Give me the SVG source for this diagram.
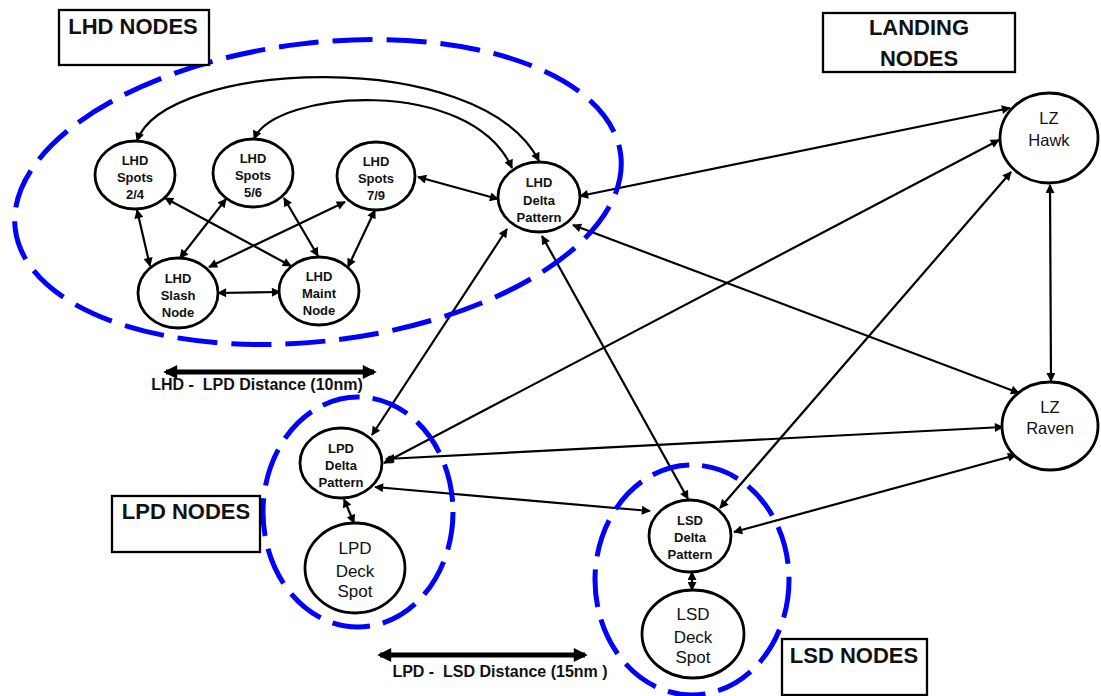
<svg xmlns="http://www.w3.org/2000/svg" width="1101" height="696" viewBox="0 0 1101 696">
<style>
.bg{fill:#fff}
.node ellipse{fill:#fff;stroke:#000;stroke-width:2.8}
.node text{font-family:"Liberation Sans",Arial,sans-serif;font-weight:bold;font-size:13px;text-anchor:middle;fill:#111}
.node text.big{font-weight:normal;font-size:17px}
.node text.lz{font-weight:normal;font-size:16.5px}
.conn line,.conn path{stroke:#000;stroke-width:2.2;fill:none;marker-start:url(#ah);marker-end:url(#ah)}
.dist line{stroke:#000;stroke-width:5;marker-start:url(#bh);marker-end:url(#bh)}
.grp{fill:none;stroke:#0000ff;stroke-width:5}
.box rect{fill:#fff;stroke:#000;stroke-width:2.3}
.box text{font-family:"Liberation Sans",Arial,sans-serif;font-weight:bold;font-size:22px;text-anchor:middle;fill:#111}
.lbl{font-family:"Liberation Sans",Arial,sans-serif;font-weight:bold;font-size:16px;text-anchor:middle;white-space:pre;fill:#111}
</style>
<defs>
<marker id="ah" viewBox="0 0 10 10" refX="9" refY="5" markerWidth="10" markerHeight="9" markerUnits="userSpaceOnUse" orient="auto-start-reverse"><path d="M0,0L10,5L0,10z" fill="#000"/></marker>
<marker id="bh" viewBox="0 0 10 10" refX="8" refY="5" markerWidth="17" markerHeight="14" markerUnits="userSpaceOnUse" orient="auto-start-reverse"><path d="M0,0L10,5L0,10z" fill="#000"/></marker>
</defs>
<rect class="bg" x="0" y="0" width="1101" height="696"/>

<g id="connectors" class="conn">
<path d="M137,141 C165,60 480,45 539,161"/>
<path d="M254,139 C275,90 470,75 512,168"/>
<line x1="418" y1="177" x2="498" y2="199"/>
<line x1="137" y1="210" x2="150" y2="266"/>
<line x1="165" y1="198" x2="291" y2="266"/>
<line x1="226" y1="199" x2="180" y2="258"/>
<line x1="284" y1="198" x2="318" y2="256"/>
<line x1="345" y1="202" x2="209" y2="267"/>
<line x1="375" y1="210" x2="348" y2="267"/>
<line x1="218" y1="293" x2="280" y2="292"/>
<line x1="580" y1="196" x2="1010" y2="108"/>
<line x1="573" y1="225" x2="1019" y2="393"/>
<line x1="507" y1="229" x2="372" y2="435"/>
<line x1="542" y1="236" x2="688" y2="499"/>
<line x1="999" y1="140" x2="384" y2="463"/>
<line x1="1011" y1="172" x2="720" y2="508"/>
<line x1="1050" y1="185" x2="1051" y2="381"/>
<line x1="1003" y1="427" x2="386" y2="459"/>
<line x1="1016" y1="455" x2="734" y2="532"/>
<line x1="375" y1="487" x2="650" y2="511"/>
<line x1="344" y1="499" x2="354" y2="523"/>
<line x1="692" y1="572" x2="692" y2="590"/>
</g>

<g id="groups">
<ellipse id="lhd-group" class="grp" cx="318" cy="192" rx="305" ry="149" transform="rotate(-7 318 192)" stroke-dasharray="40 14"/>
<ellipse id="lpd-group" class="grp" cx="358" cy="512" rx="95" ry="115" stroke-dasharray="38 13"/>
<ellipse id="lsd-group" class="grp" cx="692" cy="580" rx="97" ry="115" stroke-dasharray="38 13"/>
</g>

<g id="lhd-spots-24" class="node"><ellipse cx="135" cy="175" rx="40" ry="34"/><text x="135" y="165">LHD</text><text x="135" y="182">Spots</text><text x="135" y="199">2/4</text></g>
<g id="lhd-spots-56" class="node"><ellipse cx="253" cy="173" rx="40" ry="34"/><text x="253" y="163">LHD</text><text x="253" y="180">Spots</text><text x="253" y="197">5/6</text></g>
<g id="lhd-spots-79" class="node"><ellipse cx="376" cy="176" rx="39" ry="34"/><text x="376" y="166">LHD</text><text x="376" y="183">Spots</text><text x="376" y="200">7/9</text></g>
<g id="lhd-delta" class="node"><ellipse cx="539" cy="197" rx="41" ry="35"/><text x="539" y="187">LHD</text><text x="539" y="205">Delta</text><text x="539" y="222">Pattern</text></g>
<g id="lhd-slash" class="node"><ellipse cx="178" cy="293" rx="40" ry="35"/><text x="178" y="283">LHD</text><text x="178" y="300">Slash</text><text x="178" y="317">Node</text></g>
<g id="lhd-maint" class="node"><ellipse cx="319" cy="291" rx="40" ry="34"/><text x="319" y="281">LHD</text><text x="319" y="298">Maint</text><text x="319" y="315">Node</text></g>
<g id="lz-hawk" class="node"><ellipse cx="1049" cy="138" rx="49" ry="45"/><text class="lz" x="1049" y="124">LZ</text><text class="lz" x="1049" y="146">Hawk</text></g>
<g id="lz-raven" class="node"><ellipse cx="1050" cy="426" rx="48" ry="44"/><text class="lz" x="1050" y="413">LZ</text><text class="lz" x="1050" y="434">Raven</text></g>
<g id="lpd-delta" class="node"><ellipse cx="341" cy="463" rx="41" ry="35"/><text x="341" y="453">LPD</text><text x="341" y="470">Delta</text><text x="341" y="487">Pattern</text></g>
<g id="lpd-deck" class="node"><ellipse cx="355" cy="568" rx="50" ry="45"/><text class="big" x="355" y="554">LPD</text><text class="big" x="355" y="577">Deck</text><text class="big" x="355" y="597">Spot</text></g>
<g id="lsd-delta" class="node"><ellipse cx="690" cy="536" rx="41" ry="36"/><text x="690" y="525">LSD</text><text x="690" y="542">Delta</text><text x="690" y="559">Pattern</text></g>
<g id="lsd-deck" class="node"><ellipse cx="693" cy="634" rx="51" ry="44"/><text class="big" x="693" y="620">LSD</text><text class="big" x="693" y="643">Deck</text><text class="big" x="693" y="663">Spot</text></g>

<g id="lhd-nodes-box" class="box"><rect x="59" y="10" width="150" height="55"/><text x="133" y="34">LHD NODES</text></g>
<g id="landing-nodes-box" class="box"><rect x="823" y="13" width="192" height="59"/><text x="919" y="35">LANDING</text><text x="919" y="66">NODES</text></g>
<g id="lpd-nodes-box" class="box"><rect x="112" y="496" width="148" height="56"/><text x="186" y="519">LPD NODES</text></g>
<g id="lsd-nodes-box" class="box"><rect x="782" y="639" width="145" height="56"/><text x="854" y="663">LSD NODES</text></g>

<g id="distances" class="dist">
<line x1="166" y1="372" x2="374" y2="372"/>
<line x1="380" y1="655" x2="585" y2="655"/>
</g>
<text class="lbl" x="257" y="390">LHD -  LPD Distance (10nm)</text>
<text class="lbl" x="500" y="677">LPD -  LSD Distance (15nm )</text>
</svg>
